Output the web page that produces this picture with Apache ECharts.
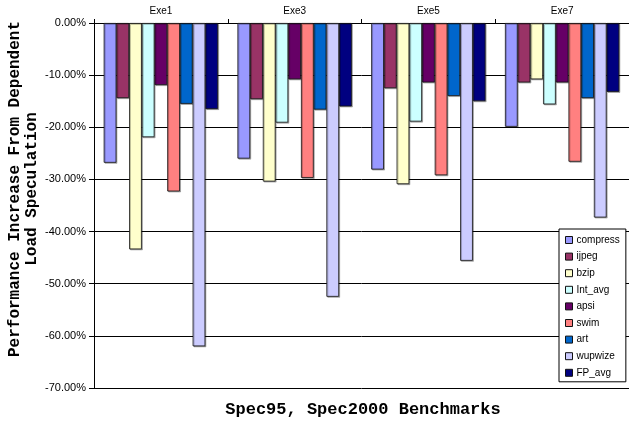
<!DOCTYPE html>
<html>
<head>
<meta charset="utf-8">
<script src="https://cdn.jsdelivr.net/npm/echarts@6/dist/echarts.min.js"></script>
<style>
  html, body { margin: 0; padding: 0; background: #fff; }
  #chart { width: 629px; height: 424px; }
</style>
</head>
<body>
<div id="chart"></div>
<script>
// Benchmark groups along the category axis
const categories = ['Exe1', 'Exe3', 'Exe5', 'Exe7'];

// Performance change (%) per benchmark, one value per group
const compress = [-26.8, -26.0, -28.1, -19.9];
const ijpeg    = [-14.4, -14.6, -12.5, -11.4];
const bzip     = [-43.4, -30.4, -30.9, -10.8];
const intAvg   = [-21.9, -19.1, -18.9, -15.6];
const apsi     = [-11.9, -10.8, -11.4, -11.4];
const swim     = [-32.3, -29.7, -29.2, -26.6];
const art      = [-15.5, -16.6, -14.0, -14.4];
const wupwize  = [-62.0, -52.5, -45.6, -37.3];
const fpAvg    = [-16.5, -16.0, -15.0, -13.2];

// Value axis ticks
const yMin = -70, yMax = 0, yStep = 10;

const seriesDefs = [
  { name: 'compress', data: compress, color: '#9999FF' },
  { name: 'ijpeg',    data: ijpeg,    color: '#993366' },
  { name: 'bzip',     data: bzip,     color: '#FFFFCC' },
  { name: 'Int_avg',  data: intAvg,   color: '#CCFFFF' },
  { name: 'apsi',     data: apsi,     color: '#660066' },
  { name: 'swim',     data: swim,     color: '#FF8080' },
  { name: 'art',      data: art,      color: '#0066CC' },
  { name: 'wupwize',  data: wupwize,  color: '#CCCCFF' },
  { name: 'FP_avg',   data: fpAvg,    color: '#000080' }
];

const chart = echarts.init(document.getElementById('chart'), null, { renderer: 'canvas' });

const series = seriesDefs.map(s => ({
  name: s.name,
  type: 'bar',
  data: s.data,
  barGap: '0%',
  barCategoryGap: '14.5%',
  itemStyle: {
    color: s.color,
    borderColor: '#111',
    borderWidth: 0.8,
    shadowColor: 'rgba(0,0,0,0.3)',
    shadowOffsetX: 1,
    shadowOffsetY: 1,
    shadowBlur: 0
  },
  emphasis: { disabled: true },
  animation: false
}));

chart.setOption({
  backgroundColor: '#fff',
  animation: false,
  grid: { left: 94, top: 23, right: -5, bottom: 36 },
  legend: {
    orient: 'vertical',
    left: 559,
    top: 229,
    padding: [6, 6, 4, 6],
    itemGap: 6.6,
    itemWidth: 7,
    itemHeight: 7,
    backgroundColor: '#fff',
    borderColor: '#000',
    borderWidth: 1,
    icon: 'rect',
    itemStyle: { shadowBlur: 0, shadowOffsetX: 0, shadowOffsetY: 0, shadowColor: 'transparent', borderWidth: 1 },
    textStyle: { fontFamily: 'Liberation Sans, Arial', fontSize: 10, color: '#000', padding: [0, 0, 0, -1] },
    data: seriesDefs.map(s => s.name)
  },
  xAxis: {
    type: 'category',
    data: categories,
    position: 'top',
    axisLine: { show: true, onZero: false, lineStyle: { color: '#000', width: 1 } },
    axisTick: { show: true, length: 4, lineStyle: { color: '#000' } },
    axisLabel: { fontFamily: 'Liberation Sans, Arial', fontSize: 10, color: '#000', margin: 7 },
    splitLine: { show: false }
  },
  yAxis: {
    type: 'value',
    min: yMin,
    max: yMax,
    interval: yStep,
    axisLine: { show: true, lineStyle: { color: '#000', width: 1 } },
    axisTick: { show: true, length: 5, lineStyle: { color: '#000' } },
    axisLabel: {
      fontFamily: 'Liberation Sans, Arial',
      fontSize: 11,
      color: '#000',
      margin: 8,
      formatter: v => v.toFixed(2) + '%'
    },
    splitLine: { show: true, lineStyle: { color: '#000', width: 1 } }
  },
  graphic: [
    {
      type: 'text',
      x: 363, y: 410,
      style: {
        text: 'Spec95, Spec2000 Benchmarks',
        fontFamily: 'Liberation Mono, Courier New, monospace',
        fontWeight: 'bold',
        fontSize: 17,
        fill: '#000',
        align: 'center',
        verticalAlign: 'middle'
      }
    },
    {
      type: 'text',
      x: 23, y: 189,
      rotation: Math.PI / 2,
      style: {
        text: 'Performance Increase From Dependent\nLoad Speculation',
        fontFamily: 'Liberation Mono, Courier New, monospace',
        fontWeight: 'bold',
        fontSize: 16,
        lineHeight: 17,
        fill: '#000',
        align: 'center',
        verticalAlign: 'middle'
      }
    }
  ],
  series: series
});
</script>
</body>
</html>
